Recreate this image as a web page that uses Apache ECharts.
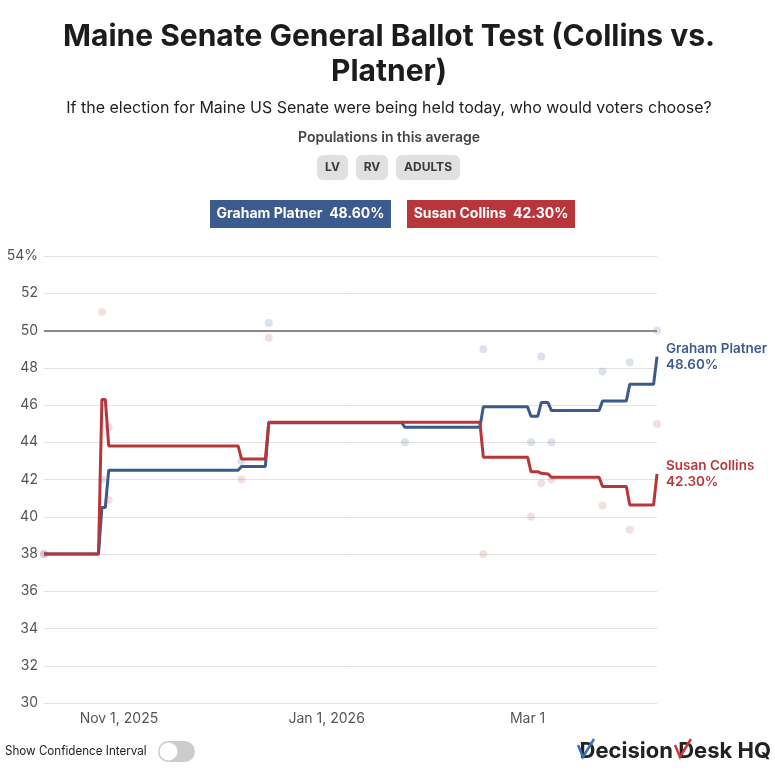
<!DOCTYPE html>
<html>
<head>
<meta charset="utf-8">
<script src="https://cdn.jsdelivr.net/npm/echarts@6/dist/echarts.min.js"></script>
<style>
  html, body { margin: 0; padding: 0; background: #ffffff; }
  #chart { width: 775px; height: 776px; }
</style>
</head>
<body>
<div id="chart"></div>
<script>
// ---- data ----
const avgDates = ['2025-10-10','2025-10-26','2025-10-27','2025-10-28','2025-10-29','2025-12-06','2025-12-07','2025-12-14','2025-12-15','2026-01-23','2026-01-24','2026-02-15','2026-02-16','2026-03-01','2026-03-02','2026-03-04','2026-03-05','2026-03-07','2026-03-08','2026-03-22','2026-03-23','2026-03-30','2026-03-31','2026-04-07','2026-04-08'];
const platnerAvg = [38.0, 38.0, 40.5, 40.5, 42.5, 42.5, 42.7, 42.7, 45.05, 45.05, 44.8, 44.8, 45.9, 45.9, 45.4, 45.4, 46.13, 46.13, 45.7, 45.7, 46.22, 46.22, 47.11, 47.11, 48.6];
const collinsAvg = [38.0, 38.0, 46.3, 46.3, 43.8, 43.8, 43.1, 43.1, 45.07, 45.07, 45.07, 45.07, 43.2, 43.2, 42.42, 42.42, 42.33, 42.3, 42.12, 42.12, 41.62, 41.62, 40.63, 40.63, 42.3];

const pollDates = ['2025-10-10','2025-10-27','2025-10-29','2025-12-07','2025-12-15','2026-01-24','2026-02-16','2026-03-02','2026-03-05','2026-03-08','2026-03-23','2026-03-31','2026-04-08'];
const platnerPolls = [38.0, 42.0, 44.8, 43.0, 50.4, 44.0, 49.0, 44.0, 48.6, 44.0, 47.8, 48.3, 50.0];
const collinsPolls = [38.0, 51.0, 40.9, 42.0, 49.6, null, 38.0, 40.0, 41.8, 42.0, 40.6, 39.3, 45.0];

const xTickDates = ['2025-11-01','2026-01-01','2026-03-01'];
const xTickLabels = ['Nov 1, 2025','Jan 1, 2026','Mar 1'];
const yTopLabel = '54%';

const names = ['Graham Platner','Susan Collins'];
const latest = ['48.60%','42.30%'];
const populations = ['LV','RV','ADULTS'];

// ---- helpers ----
const ts = s => { const p = s.split('-').map(Number); return new Date(p[0], p[1]-1, p[2]).getTime(); };
const pairs = (d, v) => d.map((x, i) => [ts(x), v[i]]);

const BLUE = '#3b5a8e';
const RED = '#b8363a';
const FONT = 'Inter, "Noto Sans", sans-serif';

const tickTs = xTickDates.map(ts);
const chart = echarts.init(document.getElementById('chart'), null, { renderer: 'canvas' });

const option = {
  animation: false,
  backgroundColor: '#ffffff',
  textStyle: { fontFamily: FONT },
  grid: { left: 44, right: 118, top: 256, bottom: 73, containLabel: false },
  xAxis: {
    type: 'value',
    min: ts(avgDates[0]),
    max: ts(avgDates[avgDates.length - 1]),
    axisLine: { show: false },
    axisTick: { show: false },
    splitLine: { show: false },
    axisLabel: {
      customValues: tickTs,
      color: '#555',
      fontSize: 14,
      fontFamily: FONT,
      margin: 9,
      formatter: function (v) {
        const i = tickTs.indexOf(v);
        return i >= 0 ? xTickLabels[i] : '';
      }
    }
  },
  yAxis: {
    type: 'value',
    min: 30,
    max: 54,
    interval: 2,
    axisLine: { show: false },
    axisTick: { show: false },
    splitLine: { lineStyle: { color: '#e3e3e3', width: 1 } },
    axisLabel: {
      color: '#555',
      fontSize: 14,
      fontFamily: FONT,
      margin: 6,
      formatter: function (v) { return v === 54 ? yTopLabel : String(v); }
    }
  },
  series: [
    {
      type: 'scatter',
      data: pairs(pollDates, platnerPolls),
      symbolSize: 8,
      itemStyle: { color: 'rgba(59,90,142,0.22)' },
      silent: true,
      z: 1
    },
    {
      type: 'scatter',
      data: pairs(pollDates, collinsPolls),
      symbolSize: 8,
      itemStyle: { color: 'rgba(184,54,58,0.2)' },
      silent: true,
      z: 1
    },
    {
      name: names[0],
      type: 'line',
      data: pairs(avgDates, platnerAvg),
      showSymbol: false,
      lineStyle: { color: BLUE, width: 3 },
      itemStyle: { color: BLUE },
      z: 3,
      markLine: {
        silent: true,
        symbol: 'none',
        label: { show: false },
        lineStyle: { color: '#8a8a8a', width: 2, type: 'solid' },
        data: [{ yAxis: 50 }]
      },
      endLabel: {
        show: true,
        distance: 9,
        color: BLUE,
        fontSize: 13.5,
        fontWeight: 600,
        lineHeight: 16,
        fontFamily: FONT,
        formatter: function () { return names[0] + '\n' + latest[0]; }
      }
    },
    {
      name: names[1],
      type: 'line',
      data: pairs(avgDates, collinsAvg),
      showSymbol: false,
      lineStyle: { color: RED, width: 3 },
      itemStyle: { color: RED },
      z: 4,
      endLabel: {
        show: true,
        distance: 9,
        color: RED,
        fontSize: 13.5,
        fontWeight: 600,
        lineHeight: 16,
        fontFamily: FONT,
        formatter: function () { return names[1] + '\n' + latest[1]; }
      }
    }
  ],
  graphic: [
    { type: 'text', x: 389, y: 37, style: { text: 'Maine Senate General Ballot Test (Collins vs.', font: 'bold 30px ' + FONT, fill: '#1c1c1c', textAlign: 'center', textVerticalAlign: 'middle' } },
    { type: 'text', x: 389, y: 72, style: { text: 'Platner)', font: 'bold 30px ' + FONT, fill: '#1c1c1c', textAlign: 'center', textVerticalAlign: 'middle' } },
    { type: 'text', x: 389, y: 108, style: { text: 'If the election for Maine US Senate were being held today, who would voters choose?', font: '16px ' + FONT, fill: '#222', textAlign: 'center', textVerticalAlign: 'middle' } },
    { type: 'text', x: 389, y: 138, style: { text: 'Populations in this average', font: '600 14px ' + FONT, fill: '#444', textAlign: 'center', textVerticalAlign: 'middle' } },

    { type: 'rect', shape: { x: 317, y: 155, width: 31, height: 25, r: 6 }, style: { fill: '#e0e0e0' } },
    { type: 'text', x: 332.5, y: 167.5, style: { text: populations[0], font: 'bold 12px ' + FONT, fill: '#3a3a3a', textAlign: 'center', textVerticalAlign: 'middle' } },
    { type: 'rect', shape: { x: 356, y: 155, width: 32, height: 25, r: 6 }, style: { fill: '#e0e0e0' } },
    { type: 'text', x: 372, y: 167.5, style: { text: populations[1], font: 'bold 12px ' + FONT, fill: '#3a3a3a', textAlign: 'center', textVerticalAlign: 'middle' } },
    { type: 'rect', shape: { x: 396, y: 155, width: 64, height: 25, r: 6 }, style: { fill: '#e0e0e0' } },
    { type: 'text', x: 428, y: 167.5, style: { text: populations[2], font: 'bold 12px ' + FONT, fill: '#3a3a3a', textAlign: 'center', textVerticalAlign: 'middle' } },

    { type: 'rect', shape: { x: 210, y: 200, width: 181, height: 28 }, style: { fill: BLUE } },
    { type: 'text', x: 300.5, y: 214, style: { text: names[0] + '  ' + latest[0], font: 'bold 14px ' + FONT, fill: '#ffffff', textAlign: 'center', textVerticalAlign: 'middle' } },
    { type: 'rect', shape: { x: 407, y: 200, width: 168, height: 28 }, style: { fill: RED } },
    { type: 'text', x: 491, y: 214, style: { text: names[1] + '  ' + latest[1], font: 'bold 14px ' + FONT, fill: '#ffffff', textAlign: 'center', textVerticalAlign: 'middle' } },

    { type: 'text', x: 5, y: 751, scaleX: 0.93, style: { text: 'Show Confidence Interval', font: '12.5px ' + FONT, fill: '#222', textAlign: 'left', textVerticalAlign: 'middle' } },
    { type: 'rect', shape: { x: 158, y: 741, width: 37, height: 21, r: 10.5 }, style: { fill: '#cccccc' } },
    { type: 'circle', shape: { cx: 168.5, cy: 751.5, r: 9 }, style: { fill: '#ffffff' } },

    { type: 'text', x: 771, y: 751, style: { text: 'Decision Desk HQ', font: 'bold 22px ' + FONT, fill: '#222', textAlign: 'right', textVerticalAlign: 'middle' } },
    { type: 'polyline', shape: { points: [[578, 745], [583, 757], [594, 739]] }, style: { stroke: '#3b6fb0', lineWidth: 2.5, fill: null } },
    { type: 'polyline', shape: { points: [[675, 745], [680, 757], [691, 739]] }, style: { stroke: '#c8383c', lineWidth: 2.5, fill: null } }
  ]
};

chart.setOption(option);
</script>
</body>
</html>
